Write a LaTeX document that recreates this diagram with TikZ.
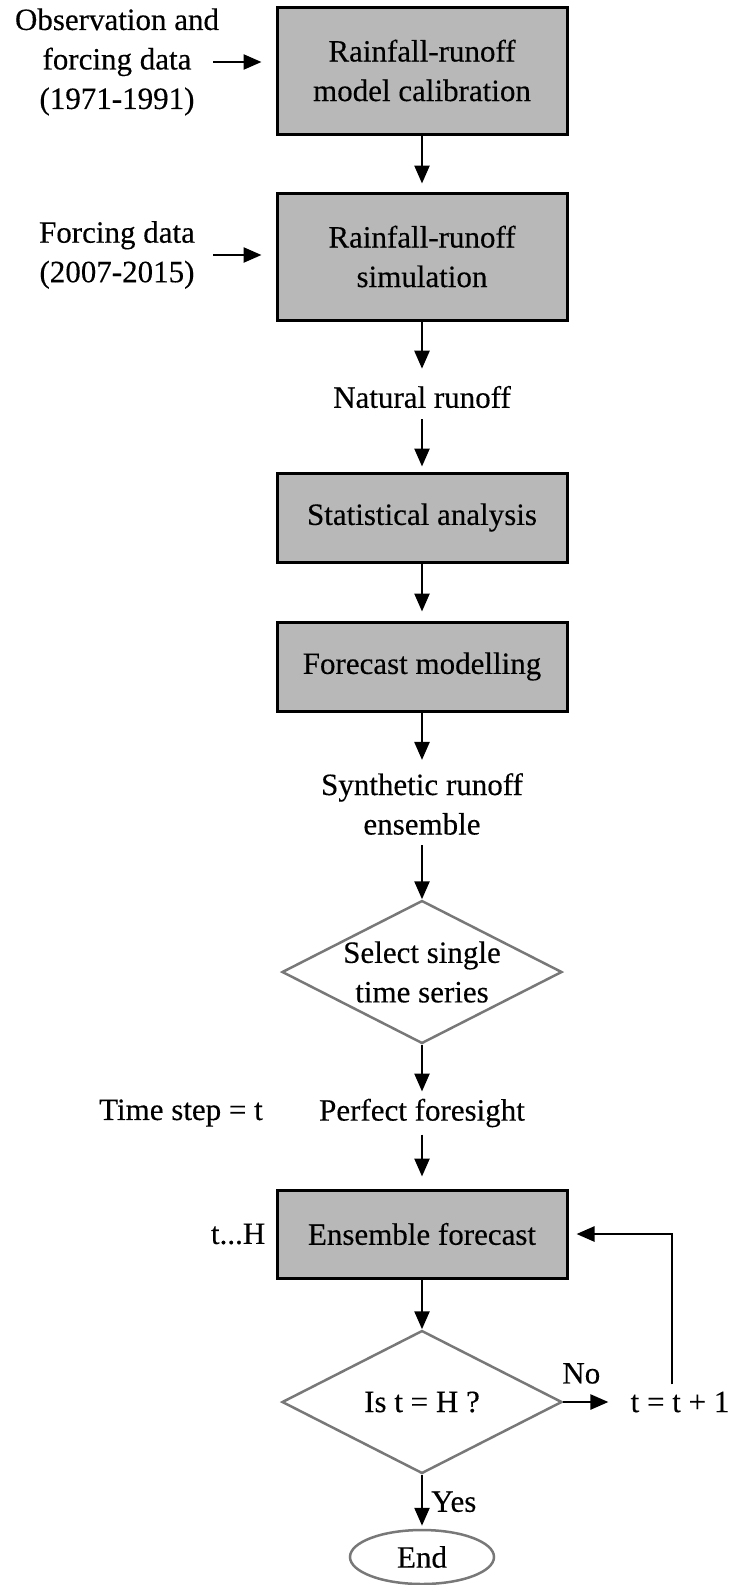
\documentclass[tikz,border=0pt]{standalone}
\usepackage{fontspec}
\setmainfont{Liberation Serif}[FakeBold=0.3]
\usetikzlibrary{arrows.meta,positioning,shapes.geometric}
\definecolor{boxgray}{RGB}{184,184,184}
\definecolor{edgegray}{RGB}{120,120,120}
\tikzset{
  >={Triangle[length=18pt,width=15pt]},
  flow/.style ={x=1pt, y=-1pt, line width=2.5pt, font=\fontsize{31}{39.5}\selectfont},
  proc/.style ={draw, line width=3pt, fill=boxgray, minimum width=290pt, align=center},
  dec/.style  ={draw=edgegray, diamond, aspect=1.96, inner sep=0pt, minimum width=280pt, minimum height=143pt, align=center},
  term/.style ={draw=edgegray, ellipse, inner sep=0pt, minimum width=144pt, minimum height=54pt},
  txt/.style  ={align=center, inner sep=6pt}
}

\begin{document}
\begin{tikzpicture}[flow]
\useasboundingbox (0,0) rectangle (732,1585);
\node[proc, minimum height=127pt] (cal)  at (422,70.5)  {Rainfall-runoff\\model calibration};
\node[proc, minimum height=127pt] (sim)  at (422,256.5) {Rainfall-runoff\\simulation};
\node[txt]                        (nat)  at (422,397)   {Natural runoff};
\node[proc, minimum height=89pt]  (stat) at (422,517.5) {Statistical analysis};
\node[proc, minimum height=89pt]  (fore) at (422,666.5) {Forecast modelling};
\node[txt]                        (syn)  at (422,804)   {Synthetic runoff\\ensemble};
\node[dec]                        (sel)  at (422,972)   {Select single\\time series};
\node[txt]                        (perf) at (422,1113)  {Perfect foresight};
\node[proc, minimum height=88pt]  (ens)  at (422,1234)  {Ensemble forecast};
\node[dec]                        (ist)  at (422,1402)  {Is t = H ?};
\node[term]                       (fin)  at (422,1557)  {End};
\node[txt] (obs)   at (117,62)   {Observation and\\forcing data\\(1971-1991)};
\node[txt] (frc)   at (117,255)  {Forcing data\\(2007-2015)};
\node[txt] (tstep) at (181,1113) {Time step = t};
\node[txt, left=3pt of ens] (th) {t...H};
\node[txt] (inc)   at (680,1402) {t = t + 1};

\draw[->, shorten <=-13pt, shorten >=14pt] (obs.east) -- (obs.east -| cal.west);
\draw[->, shorten <=11pt, shorten >=14pt] (frc.east) -- (frc.east -| sim.west);
\draw[->, shorten >=8pt] (cal) -- (sim);
\draw[->, shorten >=10pt] (sim) -- (nat);
\draw[->, shorten <=4pt, shorten >=5pt] (nat) -- (stat);
\draw[->, shorten >=9pt] (stat) -- (fore);
\draw[->, shorten >=6pt] (fore) -- (syn);
\draw[->, shorten <=3pt] (syn) -- (sel);
\draw[->] (sel) -- (perf);
\draw[->, shorten >=12pt] (perf) -- (ens);
\draw[->] (ens) -- (ist);
\draw[->, shorten >=3pt] (ist) -- node[right, inner sep=8pt] {Yes} (fin);
\draw[->, shorten >=15pt] (ist) -- node[above=17pt, pos=0.3, inner sep=0pt] {No} (inc);
\draw[->, shorten >=8pt] ([xshift=-8pt]inc.north) |- (ens.east);
\end{tikzpicture}
\end{document}
